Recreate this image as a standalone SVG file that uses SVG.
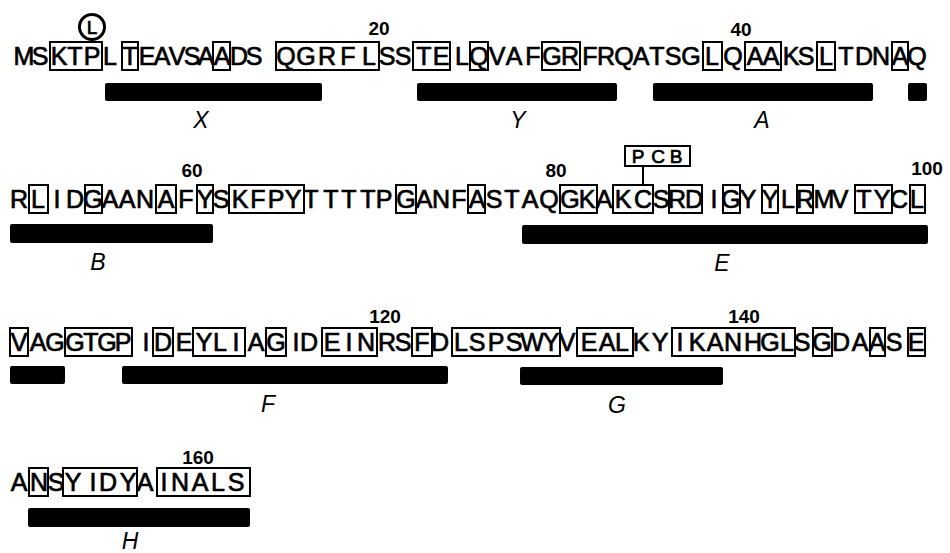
<svg xmlns="http://www.w3.org/2000/svg" width="950" height="553" viewBox="0 0 950 553">
<style>
.seq{font-family:"Liberation Sans Narrow","Liberation Sans",Arial,sans-serif;font-size:25px;text-anchor:middle;fill:#000;stroke:#000;stroke-width:0.7}
.num{font-family:"Liberation Sans",Arial,sans-serif;font-size:19px;font-weight:bold;text-anchor:middle;fill:#000}
.dom{font-family:"Liberation Sans",Arial,sans-serif;font-size:23px;font-style:italic;text-anchor:middle;fill:#000}
.box{fill:none;stroke:#000;stroke-width:2}
.bar{fill:#000}
</style>
<rect width="950" height="553" fill="#fff"/>
<g id="row1">
<text class="seq" y="65" x="24 40 59 75 92 110 130 147 162 177 192 206 222 239 254 286 306 327 348 369 387 403 424 441 462 479 497 514 533 552 570 590 606 624 641 657 673 691 712 733 755 771 791 806 826 846 864 881 900 917">MSKTPLTEAVSAADSQGRFLSSTELQVAFGRFRQATSGLQAAKSLTDNAQ</text>
<g>
<rect class="box" x="50" y="42" width="52" height="28"/>
<rect class="box" x="122" y="42" width="16" height="28"/>
<rect class="box" x="213" y="42" width="17" height="28"/>
<rect class="box" x="276" y="42" width="103" height="28"/>
<rect class="box" x="413" y="42" width="37" height="28"/>
<rect class="box" x="470" y="42" width="18" height="28"/>
<rect class="box" x="542" y="42" width="38" height="28"/>
<rect class="box" x="703" y="42" width="19" height="28"/>
<rect class="box" x="745" y="42" width="36" height="28"/>
<rect class="box" x="817" y="42" width="18" height="28"/>
<rect class="box" x="892" y="42" width="16" height="28"/>
</g>
<circle cx="92" cy="27" r="12.5" fill="none" stroke="#000" stroke-width="3"/>
<text class="seq" x="92" y="34" style="font-size:19px">L</text>
<text class="num" x="379" y="35">20</text>
<text class="num" x="741" y="36">40</text>
<rect class="bar" x="105" y="83" width="217" height="18" rx="2"/>
<rect class="bar" x="417" y="83" width="200" height="18" rx="2"/>
<rect class="bar" x="653" y="83" width="220" height="18" rx="2"/>
<rect class="bar" x="908" y="83" width="19" height="18" rx="2"/>
<text class="dom" x="201" y="128">X</text>
<text class="dom" x="518" y="128">Y</text>
<text class="dom" x="762" y="128">A</text>
</g>
<g id="row2">
<text class="seq" y="208" x="19 38 57 75 93 110 127 145 166 186 205 221 240 258 276 293 311 331 349 368 384 406 424 441 459 477 494 512 530 549 570 587 604 623 643 661 677 694 714 731 748 770 788 805 824 840 864 882 899 917">RLIDGAANAFYSKFPYTTTTPGANFASTAQGKAKCSRDIGYYLRMVTYCL</text>
<g>
<rect class="box" x="29" y="185" width="19" height="28"/>
<rect class="box" x="85" y="185" width="17" height="28"/>
<rect class="box" x="156" y="185" width="20" height="28"/>
<rect class="box" x="197" y="185" width="16" height="28"/>
<rect class="box" x="229" y="185" width="75" height="28"/>
<rect class="box" x="396" y="185" width="20" height="28"/>
<rect class="box" x="468" y="185" width="17" height="28"/>
<rect class="box" x="560" y="185" width="37" height="28"/>
<rect class="box" x="613" y="185" width="40" height="28"/>
<rect class="box" x="669" y="185" width="33" height="28"/>
<rect class="box" x="723" y="185" width="17" height="28"/>
<rect class="box" x="762" y="185" width="16" height="28"/>
<rect class="box" x="797" y="185" width="16" height="28"/>
<rect class="box" x="855" y="185" width="37" height="28"/>
<rect class="box" x="910" y="185" width="15" height="28"/>
</g>
<g id="pcb">
<rect class="box" x="625" y="146" width="65" height="20"/>
<line x1="643" y1="166" x2="643" y2="185" stroke="#000" stroke-width="2"/>
<text class="seq" y="163" x="638 658 676" style="font-size:19px">PCB</text>
</g>
<text class="num" x="192" y="177">60</text>
<text class="num" x="556" y="177">80</text>
<text class="num" x="927" y="175">100</text>
<rect class="bar" x="10" y="224" width="203" height="19" rx="2"/>
<rect class="bar" x="522" y="225" width="406" height="19" rx="2"/>
<text class="dom" x="98" y="270">B</text>
<text class="dom" x="722" y="271">E</text>
</g>
<g id="row3">
<text class="seq" y="351" x="19 38 55 75 91 107 123 146 163 184 204 220 236 256 276 296 309 332 349 366 387 403 422 440 461 477 496 514 532 551 567 589 607 622 641 660 680 697 715 733 753 770 787 802 822 841 860 877 894 916">VAGGTGPIDEYLIAGIDEINRSFDLSPSWYVEALKYIKANHGLSGDAASE</text>
<g>
<rect class="box" x="10" y="328" width="18" height="28"/>
<rect class="box" x="65" y="328" width="67" height="28"/>
<rect class="box" x="153" y="328" width="20" height="28"/>
<rect class="box" x="193" y="328" width="52" height="28"/>
<rect class="box" x="266" y="328" width="20" height="28"/>
<rect class="box" x="322" y="328" width="55" height="28"/>
<rect class="box" x="412" y="328" width="20" height="28"/>
<rect class="box" x="452" y="328" width="108" height="28"/>
<rect class="box" x="577" y="328" width="56" height="28"/>
<rect class="box" x="672" y="328" width="123" height="28"/>
<rect class="box" x="813" y="328" width="19" height="28"/>
<rect class="box" x="870" y="328" width="15" height="28"/>
<rect class="box" x="908" y="328" width="17" height="28"/>
</g>
<text class="num" x="385" y="323">120</text>
<text class="num" x="744" y="323">140</text>
<rect class="bar" x="10" y="366" width="55" height="18" rx="2"/>
<rect class="bar" x="122" y="366" width="326" height="18" rx="2"/>
<rect class="bar" x="520" y="367" width="203" height="18" rx="2"/>
<text class="dom" x="268" y="412">F</text>
<text class="dom" x="617" y="413">G</text>
</g>
<g id="row4">
<text class="seq" y="491" x="19 39 56 73 93 108 128 145 164 180 200 218 236">ANSYIDYAINALS</text>
<g>
<rect class="box" x="29" y="468" width="19" height="28"/>
<rect class="box" x="63" y="468" width="74" height="28"/>
<rect class="box" x="157" y="468" width="93" height="28"/>
</g>
<text class="num" x="198" y="464">160</text>
<rect class="bar" x="28" y="508" width="222" height="19" rx="2"/>
<text class="dom" x="130" y="549">H</text>
</g>
</svg>
